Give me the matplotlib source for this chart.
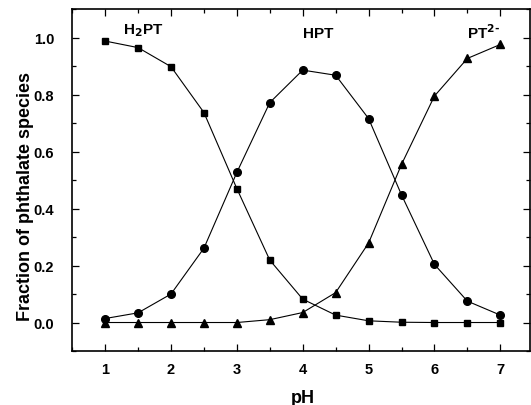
import matplotlib
matplotlib.use("Agg")
import matplotlib.pyplot as plt
from matplotlib.ticker import MultipleLocator, FormatStrFormatter

plt.rcParams['font.family'] = ['Liberation Sans', 'DejaVu Sans']
plt.rcParams['font.weight'] = 'bold'

# pH values and species fractions
ph = [1, 1.5, 2, 2.5, 3, 3.5, 4, 4.5, 5, 5.5, 6, 6.5, 7]
h2pt = [0.988, 0.965, 0.898, 0.737, 0.470, 0.219, 0.082, 0.026, 0.006, 0.001, 0.0, 0.0, 0.0]
hpt = [0.014, 0.034, 0.100, 0.261, 0.527, 0.772, 0.886, 0.868, 0.716, 0.448, 0.204, 0.075, 0.026]
pt2 = [0.0, 0.0, 0.0, 0.0, 0.0, 0.010, 0.035, 0.105, 0.279, 0.555, 0.795, 0.927, 0.976]

fig = plt.figure(figsize=(5.31, 4.06), dpi=100)
ax = fig.add_axes([0.136, 0.133, 0.862, 0.842])

# one line per species
ax.plot(ph, h2pt, color='black', lw=0.8, marker='s', ms=5)
ax.plot(ph, hpt, color='black', lw=0.8, marker='o', ms=5.5)
ax.plot(ph, pt2, color='black', lw=0.8, marker='^', ms=6)

ax.set_xlim(0.5, 7.45)
ax.set_ylim(-0.1, 1.1)
ax.xaxis.set_major_locator(MultipleLocator(1))
ax.xaxis.set_minor_locator(MultipleLocator(0.5))
ax.yaxis.set_major_locator(MultipleLocator(0.2))
ax.yaxis.set_minor_locator(MultipleLocator(0.1))
ax.yaxis.set_major_formatter(FormatStrFormatter('%.1f'))
ax.tick_params(which='both', direction='in', top=True, right=True, labelsize=10.5, width=0.9)
ax.tick_params(which='major', length=5)
ax.tick_params(which='minor', length=3)
ax.tick_params(axis='y', pad=13)
ax.tick_params(axis='x', pad=8)
for sp in ax.spines.values():
    sp.set_linewidth(1.2)

ax.set_xlabel('pH', fontsize=13, fontweight='bold')
ax.set_ylabel('Fraction of phthalate species', fontsize=13, fontweight='bold')
ax.xaxis.set_label_coords(0.504, -0.135)
ax.yaxis.set_label_coords(-0.103, 0.456)
ax.xaxis.label.set_va('center')
ax.yaxis.label.set_va('center')

# species labels
ax.text(1.58, 1.029, r'H$_\mathbf{2}$PT', ha='center', va='center', fontsize=11, fontweight='bold')
ax.text(4.24, 1.015, 'HPT', ha='center', va='center', fontsize=11, fontweight='bold')
ax.text(6.75, 1.02, r'PT$^\mathbf{2\text{-}}$', ha='center', va='center', fontsize=11, fontweight='bold')

fig.savefig('out.png', dpi=100)
